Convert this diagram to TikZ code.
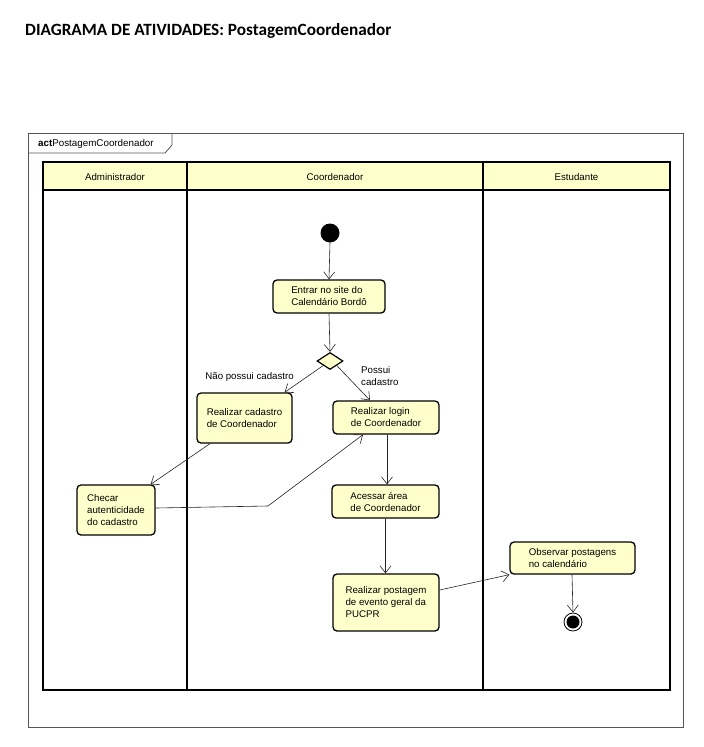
\documentclass[tikz,border=0pt]{standalone}
\usepackage{fontspec}
\setmainfont{Liberation Sans}
\newfontfamily\titlefont{Carlito}
\usetikzlibrary{arrows.meta,calc,shapes.geometric}
\definecolor{uyellow}{HTML}{FFFFCC}
\definecolor{framegray}{HTML}{555555}
\tikzset{
  act/.style={draw=black, line width=1.3pt, fill=uyellow, rounded corners=4pt,
    inner sep=0pt, align=left, font=\fontsize{9.7}{12}\selectfont},
  flow/.style={draw=black!85, line width=0.6pt, -{Straight Barb[length=7pt,width=11pt,line width=0.6pt]}},
  lane/.style={draw=black, line width=1.6pt},
  lbl/.style={font=\fontsize{9.7}{12}\selectfont, inner sep=0pt, align=left},
}
\begin{document}
\begin{tikzpicture}[x=1pt,y=-1pt]
\useasboundingbox (0,0) rectangle (704,747);
\fill[white] (0,0) rectangle (704,747);
% title
\node[anchor=west, inner sep=0pt, font=\titlefont\bfseries\fontsize{17.2}{19}\selectfont] (title) at (25,31) {DIAGRAMA DE ATIVIDADES: PostagemCoordenador};
% frame
\draw[framegray, line width=0.8pt] (28,133) rectangle (683,727);
\draw[framegray, line width=0.8pt] (28,153) -- (165,153) -- (172,145) -- (172,133);
\node[anchor=west, inner sep=0pt, font=\fontsize{9.8}{11}\selectfont] (tab) at (38,143.5) {\textbf{act}PostagemCoordenador};
% swimlanes
\fill[uyellow] (43,162) rectangle (670,190);
\draw[lane] (43,162) rectangle (670,690);
\draw[lane] (43,190) -- (670,190);
\draw[lane] (187,162) -- (187,690);
\draw[lane] (483,162) -- (483,690);
\node[lbl] (h1) at (115,177) {Administrador};
\node[lbl] (h2) at (335,177) {Coordenador};
\node[lbl] (h3) at (576.5,177) {Estudante};
% nodes
\node[circle, fill=black, minimum size=19pt, inner sep=0pt] (ini) at (330,233) {};
\node[act, minimum width=112pt, minimum height=33pt] (entrar) at (329,296.5) {Entrar no site do\\Calendário Bordô};
\node[diamond, draw=black, line width=1.2pt, fill=uyellow, minimum width=26pt, minimum height=17pt, inner sep=0pt] (dec) at (330,361) {};
\node[act, minimum width=95pt, minimum height=50pt] (cad) at (244.5,418) {Realizar cadastro\\de Coordenador};
\node[act, minimum width=106pt, minimum height=33pt] (login) at (386,417.5) {Realizar login\\de Coordenador};
\node[act, minimum width=107pt, minimum height=33pt] (acessar) at (385.5,501.5) {Acessar área\\de Coordenador};
\node[act, minimum width=78pt, minimum height=50pt] (chk) at (116,510) {Checar\\autenticidade\\do cadastro};
\node[act, minimum width=106pt, minimum height=57pt] (post) at (386,602.5) {Realizar postagem\\de evento geral da\\PUCPR};
\node[act, minimum width=125pt, minimum height=32pt] (obs) at (572.5,558) {Observar postagens\\no calendário};
% final node
\node[circle, draw=black, line width=0.8pt, fill=white, minimum size=18pt, inner sep=0pt] (fin) at (573,622) {};
\fill[black] (fin.center) circle (6.5);
% labels
\node[lbl, anchor=east] (l1) at (294,377) {Não possui cadastro};
\node[lbl, anchor=west] (l2) at (361,376.5) {Possui\\cadastro};
% flows
\coordinate (bend) at (268,506);
\draw[flow] (ini.south) -- (entrar.north);
\draw[flow] (entrar.south) -- (dec.north);
\draw[flow] (dec.south west) -- ($(cad.north east)+(-8,0)$);
\draw[flow] (dec.south east) -- ($(login.north)+(-16,0)$);
\draw[flow] ($(cad.south)+(-34.5,0)$) -- ($(chk.north east)+(-5,0)$);
\draw[flow] ($(chk.east)+(0,-2)$) -- (bend) -- ($(login.south)+(-23,0)$);
\draw[flow] ($(login.south)+(1,0)$) -- ($(acessar.north)+(1.5,0)$);
\draw[flow] (acessar.south) -- ($(post.north)+(-0.5,0)$);
\draw[flow] ($(post.east)+(0,-12.5)$) -- (obs.south west);
\draw[flow] ($(obs.south)+(-0.5,0)$) -- (fin.north);
\end{tikzpicture}
\end{document}
